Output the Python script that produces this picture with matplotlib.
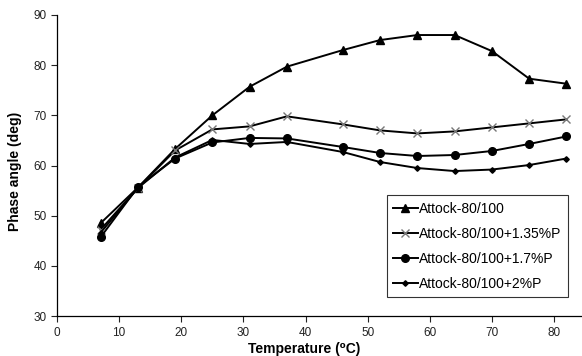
import matplotlib
matplotlib.use("Agg")
import matplotlib.pyplot as plt

plt.rcParams['font.family'] = ['Liberation Sans', 'DejaVu Sans']

# temperatures (deg C)
temps = [7, 13, 19, 25, 31, 37, 46, 52, 58, 64, 70, 76, 82]

# phase angle (deg) for each binder
base = [48.5, 55.6, 63.3, 70.0, 75.7, 79.7, 83.0, 85.0, 86.0, 86.0, 82.8, 77.3, 76.3]
p135 = [47.2, 55.5, 63.0, 67.2, 67.8, 69.8, 68.2, 67.0, 66.4, 66.8, 67.6, 68.4, 69.2]
p17 = [45.7, 55.7, 61.4, 64.6, 65.5, 65.4, 63.7, 62.5, 61.9, 62.1, 62.9, 64.3, 65.8]
p2 = [46.6, 55.5, 61.6, 65.1, 64.3, 64.7, 62.7, 60.7, 59.5, 58.9, 59.2, 60.1, 61.4]

labels = ["Attock-80/100", "Attock-80/100+1.35%P",
          "Attock-80/100+1.7%P", "Attock-80/100+2%P"]

xticks = [0, 10, 20, 30, 40, 50, 60, 70, 80]
yticks = [30, 40, 50, 60, 70, 80, 90]

fig = plt.figure(figsize=(5.82, 3.56), dpi=100)
ax = fig.add_axes([0.098, 0.112, 0.902, 0.846])

ax.plot(temps, base, color="black", lw=1.4, marker="^", ms=6, label=labels[0])
ax.plot(temps, p135, color="black", lw=1.4, marker="x", ms=6, mec="#777777",
        mew=1.0, label=labels[1])
ax.plot(temps, p17, color="black", lw=1.4, marker="o", ms=5.5, label=labels[2])
ax.plot(temps, p2, color="black", lw=1.4, marker="D", ms=2.8, label=labels[3])

ax.set_xlim(0, 84.5)
ax.set_ylim(30, 90)
ax.set_xticks(xticks)
ax.set_yticks(yticks)
ax.tick_params(labelsize=8.5, length=4, width=0.8, colors="#222222")
ax.spines["top"].set_visible(False)
ax.spines["right"].set_visible(False)
ax.spines["left"].set_linewidth(0.9)
ax.spines["bottom"].set_linewidth(0.9)

ax.set_xlabel("Temperature (⁰C)", fontsize=10, fontweight="bold")
ax.set_ylabel("Phase angle (deg)", fontsize=10, fontweight="bold")
ax.xaxis.set_label_coords(0.47, -0.085)
ax.yaxis.set_label_coords(-0.066, 0.48)

leg = ax.legend(loc="lower right", bbox_to_anchor=(0.973, 0.063), fontsize=10,
                frameon=True, fancybox=False, edgecolor="black",
                handlelength=1.8, handletextpad=0.1, labelspacing=0.8,
                borderpad=0.45, borderaxespad=0)
leg.get_frame().set_linewidth(0.8)

fig.savefig("out.png", dpi=100)
